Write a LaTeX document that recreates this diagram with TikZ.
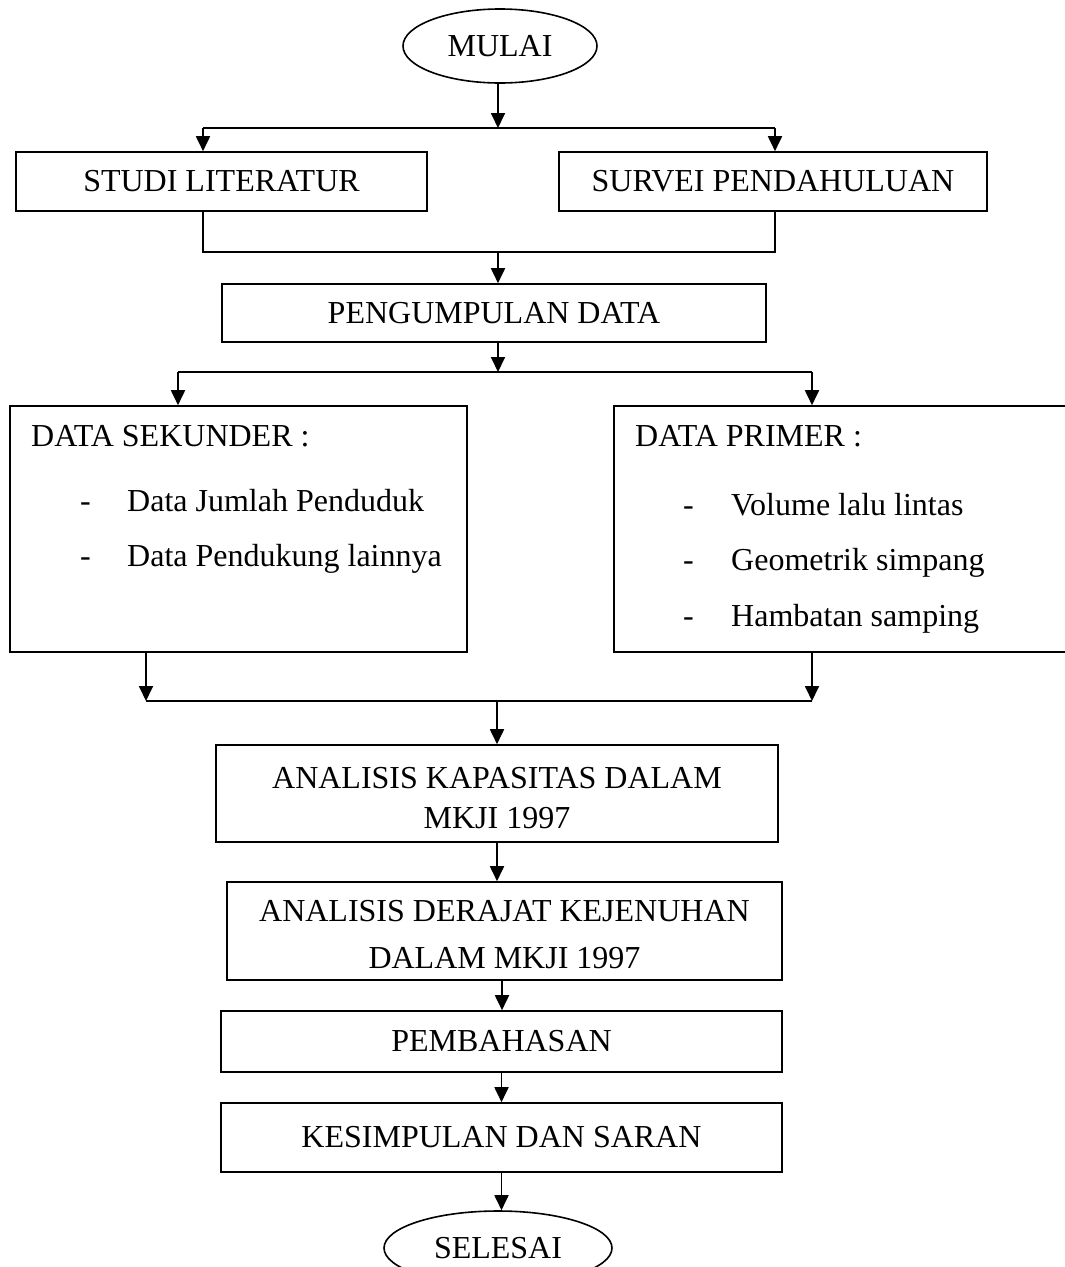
\documentclass[tikz,border=0pt]{standalone}
\usepackage{fontspec}
\setmainfont{Liberation Serif}
\usetikzlibrary{arrows.meta,shapes.geometric}
\begin{document}
\begin{tikzpicture}[x=1pt,y=-1pt,
  every node/.style={font=\fontsize{32}{40}\selectfont},
  box/.style={draw,line width=1.6pt,rectangle,inner sep=0pt,align=center},
  term/.style={draw,line width=1.6pt,ellipse,inner sep=0pt},
  txt/.style={inner sep=0pt,anchor=base west},
  ln/.style={line width=1.8pt},
  arr/.style={line width=1.8pt,-{Triangle[width=14pt,length=15pt]}}]
\useasboundingbox (0,0) rectangle (1065,1267);
% nodes
\node[term,minimum width=194,minimum height=74] (mulai) at (500,46) {MULAI};
\node[box,minimum width=411,minimum height=59] (studi) at (221.5,181.5) {STUDI LITERATUR};
\node[box,minimum width=428,minimum height=59] (survei) at (773,181.5) {SURVEI PENDAHULUAN};
\node[box,minimum width=544,minimum height=58] (kumpul) at (494,313) {PENGUMPULAN DATA};
\node[box,minimum width=457,minimum height=246] (sek) at (238.5,529) {};
\node[box,minimum width=460,minimum height=246] (prim) at (844,529) {};
\node[txt] (sekt) at (31,446) {DATA SEKUNDER :};
\node[txt] (sekd1) at (80,511) {-};
\node[txt] (sek1) at (127,511) {Data Jumlah Penduduk};
\node[txt] (sekd2) at (80,566) {-};
\node[txt] (sek2) at (127,566) {Data Pendukung lainnya};
\node[txt] (primt) at (635,446) {DATA PRIMER :};
\node[txt] (primd1) at (683,515) {-};
\node[txt] (prim1) at (731,515) {Volume lalu lintas};
\node[txt] (primd2) at (683,570) {-};
\node[txt] (prim2) at (731,570) {Geometrik simpang};
\node[txt] (primd3) at (683,626) {-};
\node[txt] (prim3) at (731,626) {Hambatan samping};
\node[box,minimum width=562,minimum height=97] (kap) at (497,793.5) {\rule{0pt}{31pt}ANALISIS KAPASITAS DALAM\\MKJI 1997};
\node[box,minimum width=555,minimum height=98] (der) at (504.5,931) {\rule{0pt}{29pt}ANALISIS DERAJAT KEJENUHAN\\[7pt]DALAM MKJI 1997};
\node[box,minimum width=561,minimum height=61] (pem) at (501.5,1041.5) {PEMBAHASAN};
\node[box,minimum width=561,minimum height=69] (kes) at (501.5,1137.5) {KESIMPULAN DAN SARAN};
\node[term,minimum width=228,minimum height=74] (sel) at (498,1248) {SELESAI};
% junction coordinates
\coordinate (s1) at (498,128);
\coordinate (s1l) at (203,128);
\coordinate (s1r) at (775,128);
\coordinate (j2) at (498,252);
\coordinate (j2l) at (203,252);
\coordinate (j2r) at (775,252);
\coordinate (s3) at (498,372);
\coordinate (s3l) at (178,372);
\coordinate (s3r) at (812,372);
\coordinate (j4) at (497,701);
\coordinate (j4l) at (146,701);
\coordinate (j4r) at (812,701);
% connectors
\draw[arr] (mulai.south -| s1) -- (s1);
\draw[ln] (s1l) -- (s1r);
\draw[arr] (s1l) -- (s1l |- studi.north);
\draw[arr] (s1r) -- (s1r |- survei.north);
\draw[ln] (s1l |- studi.south) -- (j2l) -- (j2r) -- (s1r |- survei.south);
\draw[arr] (j2) -- (j2 |- kumpul.north);
\draw[arr] (kumpul.south -| s3) -- (s3);
\draw[ln] (s3l) -- (s3r);
\draw[arr] (s3l) -- (s3l |- sek.north);
\draw[arr] (s3r) -- (s3r |- prim.north);
\draw[arr] (j4l |- sek.south) -- (j4l);
\draw[arr] (j4r |- prim.south) -- (j4r);
\draw[ln] (j4l) -- (j4r);
\draw[arr] (j4) -- (j4 |- kap.north);
\draw[arr] (kap.south -| j4) -- (j4 |- der.north);
\draw[arr] ([xshift=-2.5pt]der.south) -- ([xshift=-2.5pt]der.south |- pem.north);
\draw[arr] (pem.south) -- (pem.south |- kes.north);
\draw[arr] (kes.south) -- (kes.south |- sel.north);
\end{tikzpicture}
\end{document}
